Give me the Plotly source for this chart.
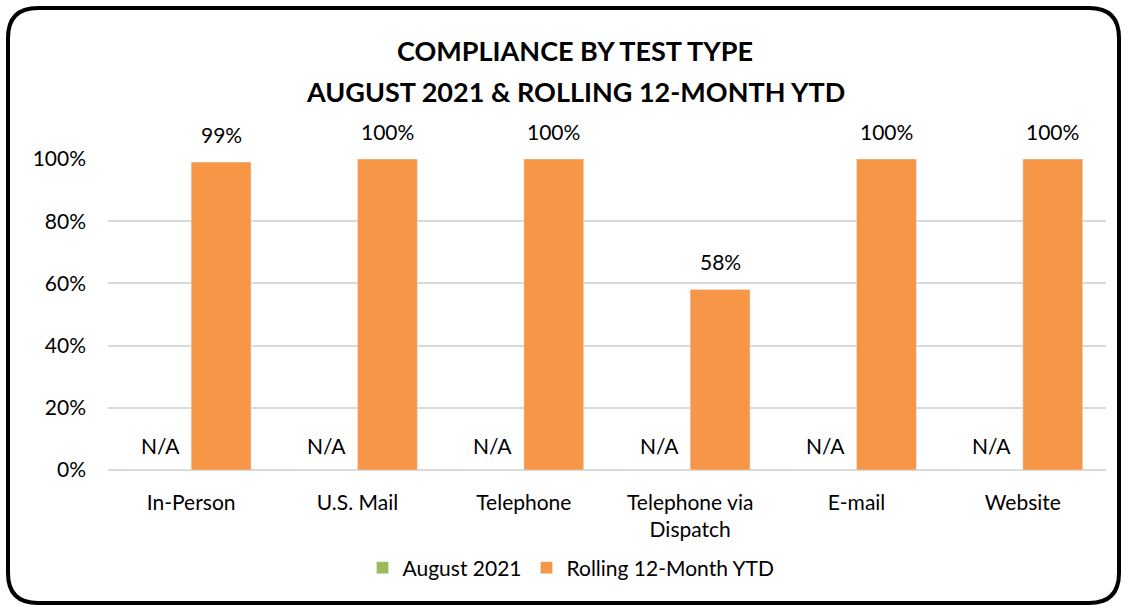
import plotly.graph_objects as go

categories = ["In-Person", "U.S. Mail", "Telephone", "Telephone via<br>Dispatch", "E-mail", "Website"]
aug_2021 = [0, 0, 0, 0, 0, 0]
aug_labels = ["N/A"] * 6
rolling_ytd = [0.99, 1.00, 1.00, 0.58, 1.00, 1.00]
rolling_labels = ["99%", "100%", "100%", "58%", "100%", "100%"]
tick_vals = [0, 0.2, 0.4, 0.6, 0.8, 1.0]
tick_text = ["0%", "20%", "40%", "60%", "80%", "100%"]

FONT = "Lato, Carlito, Calibri, sans-serif"
GREEN = "#9BBB59"
ORANGE = "#F79646"
FS = 21

fig = go.Figure()
fig.add_trace(go.Bar(name="August 2021", x=categories, y=aug_2021,
                     marker_color=GREEN, hoverinfo="skip"))
fig.add_trace(go.Bar(name="Rolling 12-Month YTD", x=categories, y=rolling_ytd,
                     marker_color=ORANGE))

L, R, T, B = 108, 19, 159, 136
W, H = 1125, 606
pw, ph = W - L - R, H - T - B

def px(x):
    return (x - L) / pw

def py(y):
    return (H - B - y) / ph

annotations = []
for c, v, t in zip(categories, aug_2021, aug_labels):
    annotations.append(dict(x=c, y=v, text=t, xref="x", yref="y", showarrow=False,
                            xshift=-31, yshift=25, font=dict(family=FONT, size=FS, color="#000")))
for c, v, t in zip(categories, rolling_ytd, rolling_labels):
    annotations.append(dict(x=c, y=v, text=t, xref="x", yref="y", showarrow=False,
                            xshift=30, yshift=28, font=dict(family=FONT, size=FS, color="#000")))
annotations.append(dict(x=px(575), y=py(92), xref="paper", yref="paper", showarrow=False,
                        text="<b>AUGUST 2021 & ROLLING 12-MONTH YTD</b>",
                        xanchor="center", yanchor="middle",
                        font=dict(family=FONT, size=27, color="#000")))

x0, x1, y0, y1, r = 8, 1119, 8, 603, 30
path = (f"M {px(x0 + r)} {py(y0)} L {px(x1 - r)} {py(y0)} "
        f"Q {px(x1)} {py(y0)} {px(x1)} {py(y0 + r)} "
        f"L {px(x1)} {py(y1 - r)} Q {px(x1)} {py(y1)} {px(x1 - r)} {py(y1)} "
        f"L {px(x0 + r)} {py(y1)} Q {px(x0)} {py(y1)} {px(x0)} {py(y1 - r)} "
        f"L {px(x0)} {py(y0 + r)} Q {px(x0)} {py(y0)} {px(x0 + r)} {py(y0)} Z")

fig.update_layout(
    width=W, height=H,
    margin=dict(l=L, r=R, t=T, b=B, autoexpand=False),
    paper_bgcolor="white", plot_bgcolor="white",
    barmode="group", bargap=0.28, bargroupgap=0,
    font=dict(family=FONT, size=FS, color="#000"),
    title=dict(text="<b>COMPLIANCE BY TEST TYPE</b>",
               x=px(575), xref="paper", xanchor="center",
               y=1 - 52 / H, yref="container", yanchor="middle",
               font=dict(family=FONT, size=27, color="#000")),
    legend=dict(orientation="h", x=px(571), xanchor="center", y=py(568), yanchor="middle",
                font=dict(family=FONT, size=FS), traceorder="normal",
                itemwidth=30),
    annotations=annotations,
    shapes=[dict(type="path", xref="paper", yref="paper", path=path,
                 line=dict(color="black", width=4), layer="above")],
    showlegend=True,
)
fig.update_yaxes(range=[0, 1], tickvals=tick_vals, ticktext=tick_text,
                 showgrid=True, gridcolor="#D9D9D9", gridwidth=1.5,
                 zeroline=True, zerolinecolor="#D9D9D9", zerolinewidth=1.5,
                 ticks="", tickfont=dict(size=FS), fixedrange=True,
                 automargin=False, ticklabelstandoff=21)
fig.update_xaxes(showline=False, ticks="", tickfont=dict(size=FS), fixedrange=True,
                 automargin=False, ticklabelstandoff=18)

fig.write_html("out.html", config={"displayModeBar": False},
               post_script="document.body.style.margin='0';")
